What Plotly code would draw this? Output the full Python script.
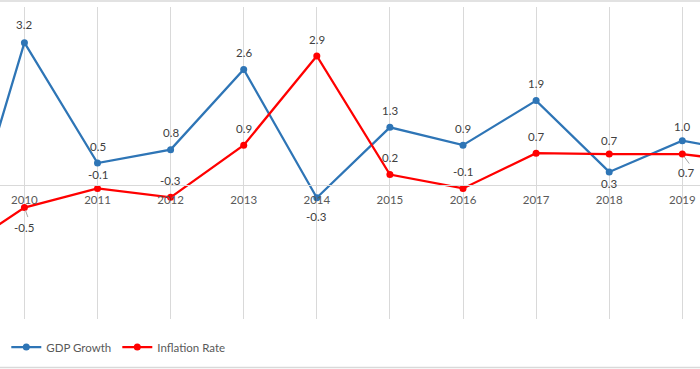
import plotly.graph_objects as go

# ---- data ----
years = [2009, 2010, 2011, 2012, 2013, 2014, 2015, 2016, 2017, 2018, 2019, 2020]
gdp_growth = [-2.3, 3.2, 0.5, 0.8, 2.6, -0.28, 1.3, 0.9, 1.9, 0.3, 1.0, 0.7]
inflation_rate = [-1.6, -0.5, -0.07, -0.27, 0.9, 2.9, 0.24, -0.07, 0.72, 0.7, 0.7, 0.5]
tick_years = [2010, 2011, 2012, 2013, 2014, 2015, 2016, 2017, 2018, 2019]

# label offsets (pixels, + = above) for visible points 2010..2019
gdp_label_shift = [18, 17, 17, 17, -19, 17, 17, 17, -12, 14]
infl_label_shift = [-20, 14, 17, 17, 17, 17, 17, 17, 14, -18]

BLUE = "#2E75B6"
RED = "#FF0000"
GRID = "#D9D9D9"
FONT = "Lato"
FS = 11.5

fig = go.Figure()
fig.add_trace(go.Scatter(
    x=years, y=gdp_growth, name="GDP Growth", mode="lines+markers",
    line=dict(color=BLUE, width=2.25), marker=dict(color=BLUE, size=7),
    cliponaxis=True))
fig.add_trace(go.Scatter(
    x=years, y=inflation_rate, name="Inflation Rate", mode="lines+markers",
    line=dict(color=RED, width=2.25), marker=dict(color=RED, size=7),
    cliponaxis=True))

annotations = []
for series, shifts in ((gdp_growth, gdp_label_shift), (inflation_rate, infl_label_shift)):
    for i, yr in enumerate(tick_years):
        v = series[years.index(yr)]
        annotations.append(dict(
            x=yr, y=v, text=f"{v:.1f}", showarrow=False, yshift=shifts[i],
            font=dict(family=FONT, size=FS, color="#404040")))

# leader lines for the two relocated labels
for yr, xs in ((2010, 0), (2019, 4)):
    v = inflation_rate[years.index(yr)]
    annotations.append(dict(
        x=yr, y=v, ax=xs + 4, ay=11, axref="pixel", ayref="pixel", text="",
        showarrow=True, arrowhead=0, arrowwidth=1, arrowcolor="#A6A6A6",
        standoff=3, startstandoff=0))
# shift the 2019 label sideways
annotations[len(tick_years) * 2 - 1]["xshift"] = 4

fig.update_layout(
    width=700, height=369,
    margin=dict(l=0, r=0, t=7, b=50, autoexpand=False),
    paper_bgcolor="white", plot_bgcolor="white",
    showlegend=True,
    legend=dict(orientation="h", x=0.009, xanchor="left", y=-0.09, yanchor="middle",
                entrywidth=66, entrywidthmode="pixels",
                font=dict(family=FONT, size=FS, color="#595959"),
                bgcolor="rgba(0,0,0,0)"),
    xaxis=dict(range=[2009.666, 2019.242], tickmode="array", tickvals=tick_years,
               ticktext=[str(t) for t in tick_years],
               showgrid=True, gridcolor=GRID, gridwidth=1,
               showline=True, linecolor=GRID, linewidth=1,
               zeroline=False, ticks="", ticklabelstandoff=4, automargin=False,
               anchor="free", position=3 / 7,
               tickfont=dict(family=FONT, size=FS, color="#595959")),
    yaxis=dict(range=[-3, 4], showgrid=False, zeroline=False, automargin=False,
               showticklabels=False, showline=False, ticks=""),
    annotations=annotations,
    shapes=[
        dict(type="line", xref="paper", yref="paper", x0=0, x1=1,
             y0=1.0192, y1=1.0192, line=dict(color=GRID, width=1.5), layer="below"),
        dict(type="line", xref="paper", yref="paper", x0=0, x1=1,
             y0=-0.1554, y1=-0.1554, line=dict(color=GRID, width=1.5), layer="below"),
    ],
)

fig.write_html(
    "out.html",
    config={"displayModeBar": False},
    post_script="document.body.style.margin='0';document.body.style.overflow='hidden';",
)
